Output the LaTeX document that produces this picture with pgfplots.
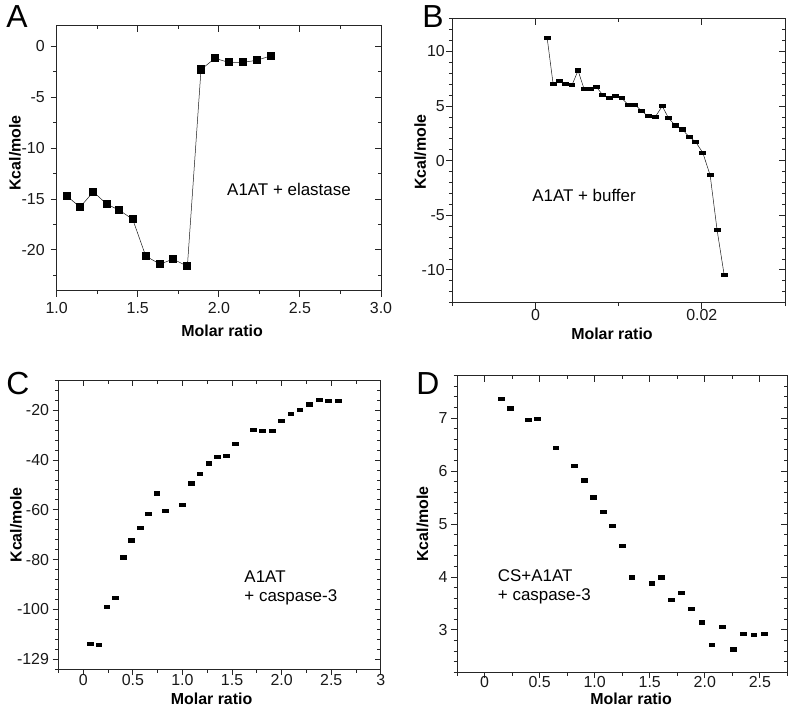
\documentclass[border=0pt]{standalone}
\usepackage{pgfplots}
\pgfplotsset{compat=1.18}
\usepackage{fontspec}
\setmainfont{Liberation Sans}
\begin{document}
\begin{tikzpicture}
\useasboundingbox (0bp,0bp) rectangle (796bp,714bp);
\pgfplotsset{
  base/.style={scale only axis,
    axis line style={black!85, line width=0.9pt},
    tick style={black!85, line width=0.9pt},
    major tick length=6bp, minor tick length=3.5bp,
    /pgf/number format/assume math mode=true,
    tick label style={font=\fontsize{16}{19}\selectfont, black!90},
    label style={font=\bfseries\fontsize{16}{19}\selectfont},
    scaled ticks=false, clip=false,
  },
  front/.style={base, tick align=outside, xtick pos=left, ytick pos=left},
  back/.style={base, tick align=inside, xtick pos=right, ytick pos=right,
    xticklabels={}, yticklabels={}},
  pA/.style={width=324.3bp, height=265bp, xmin=1, xmax=3, ymin=-24, ymax=2,
    xtick={1,1.5,2,2.5,3}, xticklabels={1.0,1.5,2.0,2.5,3.0},
    minor xtick={1.25,1.75,2.25,2.75},
    ytick={-20,-15,-10,-5,0}, minor ytick={-22.5,-17.5,-12.5,-7.5,-2.5}},
  pB/.style={width=332.7bp, height=284bp, xmin=-0.01, xmax=0.03, ymin=-13, ymax=13,
    xtick={0,0.02}, xticklabels={0,0.02}, minor xtick={-0.01,0.01,0.03},
    ytick={-10,-5,0,5,10}, minor ytick={-13,-12,...,13}},
  pC/.style={width=322.3bp, height=289bp, xmin=-0.25, xmax=3, ymin=-124, ymax=-8,
    xtick={0,0.5,1,1.5,2,2.5,3}, xticklabels={0,0.5,1.0,1.5,2.0,2.5,3},
    minor xtick={-0.25,0.25,0.75,1.25,1.75,2.25,2.75},
    ytick={-120,-100,-80,-60,-40,-20}, yticklabels={-129,-100,-80,-60,-40,-20},
    minor ytick={-124,-120,...,-8}},
  pD/.style={width=330.4bp, height=296.6bp, xmin=-0.25, xmax=2.75, ymin=2.2, ymax=7.8,
    xtick={0,0.5,1,1.5,2,2.5}, xticklabels={0,0.5,1.0,1.5,2.0,2.5},
    minor xtick={-0.25,0.25,0.75,1.25,1.75,2.25,2.75},
    ytick={3,4,5,6,7}, minor ytick={2.2,2.4,2.6,2.8,3.2,3.4,3.6,3.8,4.2,4.4,4.6,4.8,5.2,5.4,5.6,5.8,6.2,6.4,6.6,6.8,7.2,7.4,7.6,7.8}},
  sq/.style={black!90, line width=0.5pt, mark=square*, mark size=3.6bp, mark options={solid, fill=black, draw=black, line width=0pt}},
  rect/.style={black!90, line width=0.5pt, mark=square*, mark size=2.9bp, mark options={solid, fill=black, draw=black, line width=0pt, yscale=0.55}},
}
% ---------- Panel A ----------
\begin{scope}[shift={(56.7bp,423.3bp)}]
\begin{axis}[pA, back, at={(0pt,0pt)}, anchor=south west]
\end{axis}
\begin{axis}[pA, front, at={(0pt,0pt)}, anchor=south west,
  xticklabel style={yshift=-2.5bp}, yticklabel style={xshift=-2.5bp},
  xlabel={Molar ratio}, ylabel={Kcal/mole},
  xlabel style={at={(axis description cs:0.51,-0.151)}, anchor=center},
  ylabel style={at={(axis description cs:-0.1286,0.52)}, anchor=center}]
\addplot[sq] coordinates {
(1.062,-14.7) (1.144,-15.8) (1.226,-14.3) (1.308,-15.5) (1.386,-16.1) (1.469,-17.0)
(1.549,-20.6) (1.637,-21.4) (1.717,-20.9) (1.806,-21.6) (1.890,-2.3) (1.976,-1.2)
(2.061,-1.6) (2.147,-1.6) (2.233,-1.4) (2.322,-0.95)};
\node[anchor=west, font=\fontsize{17}{20}\selectfont] at (axis cs:2.03,-14.1) {A1AT + elastase};
\end{axis}
\end{scope}
% ---------- Panel B ----------
\begin{scope}[shift={(452.3bp,411.3bp)}]
\begin{axis}[pB, back, at={(0pt,0pt)}, anchor=south west]
\end{axis}
\begin{axis}[pB, front, at={(0pt,0pt)}, anchor=south west,
  xticklabel style={yshift=3bp}, yticklabel style={xshift=2bp},
  xlabel={Molar ratio}, ylabel={Kcal/mole},
  xlabel style={at={(axis description cs:0.48,-0.109)}, anchor=center},
  ylabel style={at={(axis description cs:-0.0962,0.53)}, anchor=center}]
\addplot[rect] coordinates {
(0.0014,11.26) (0.00212,7.03) (0.00288,7.27) (0.00364,7.03) (0.0044,6.94) (0.00512,8.25)
(0.00584,6.57) (0.0066,6.6) (0.00736,6.72) (0.00808,6.02) (0.00888,5.77) (0.00964,5.93)
(0.0104,5.71) (0.0112,5.07) (0.01196,5.13) (0.01276,4.55) (0.01356,4.06) (0.0144,4.0)
(0.01524,5.0) (0.016,3.9) (0.0168,3.23) (0.01764,2.86) (0.01848,2.19) (0.01928,1.7)
(0.02012,0.72) (0.021,-1.33) (0.02184,-6.37) (0.02268,-10.43)};
\node[anchor=west, font=\fontsize{17}{20}\selectfont] at (axis cs:-0.0008,-3.2) {A1AT + buffer};
\end{axis}
\end{scope}
% ---------- Panel C ----------
\begin{scope}[shift={(58.5bp,44.7bp)}]
\begin{axis}[pC, back, at={(0pt,0pt)}, anchor=south west]
\end{axis}
\begin{axis}[pC, front, at={(0pt,0pt)}, anchor=south west,
  xticklabel style={yshift=4bp},
  xlabel={Molar ratio}, ylabel={Kcal/mole},
  xlabel style={at={(axis description cs:0.475,-0.1038)}, anchor=center},
  ylabel style={at={(axis description cs:-0.1319,0.5)}, anchor=center}]
\addplot[rect, only marks] coordinates {
(0.074,-114.0) (0.159,-114.4) (0.24,-99.0) (0.324,-95.4) (0.405,-79.1) (0.49,-72.3)
(0.574,-67.3) (0.659,-61.7) (0.743,-53.4) (0.828,-60.6) (1.0,-58.0) (1.088,-49.4)
(1.176,-45.7) (1.267,-41.4) (1.355,-38.9) (1.446,-38.3) (1.537,-33.6) (1.72,-28.0)
(1.81,-28.4) (1.905,-28.4) (2.0,-24.3) (2.095,-21.5) (2.186,-19.9) (2.28,-17.7)
(2.378,-15.9) (2.476,-16.3) (2.574,-16.3)};
\node[anchor=west, align=left, font=\fontsize{17}{19}\selectfont] at (axis cs:1.59,-91.5) {A1AT\\+ caspase-3};
\end{axis}
\end{scope}
% ---------- Panel D ----------
\begin{scope}[shift={(457bp,41.7bp)}]
\begin{axis}[pD, back, at={(0pt,0pt)}, anchor=south west]
\end{axis}
\begin{axis}[pD, front, at={(0pt,0pt)}, anchor=south west,
  xticklabel style={yshift=5bp},
  xlabel={Molar ratio}, ylabel={Kcal/mole},
  xlabel style={at={(axis description cs:0.527,-0.091)}, anchor=center},
  ylabel style={at={(axis description cs:-0.1044,0.5)}, anchor=center}]
\addplot[rect, only marks] coordinates {
(0.154,7.36) (0.235,7.18) (0.398,6.97) (0.483,6.99) (0.648,6.44) (0.817,6.09)
(0.905,5.82) (0.989,5.5) (1.077,5.22) (1.164,4.96) (1.251,4.59) (1.339,3.99)
(1.52,3.875) (1.61,3.99) (1.698,3.57) (1.788,3.7) (1.882,3.4) (1.975,3.14)
(2.066,2.72) (2.162,3.06) (2.259,2.63) (2.352,2.92) (2.446,2.9) (2.542,2.93)};
\node[anchor=west, align=left, font=\fontsize{17}{19}\selectfont] at (axis cs:0.09,3.81) {CS+A1AT\\+ caspase-3};
\end{axis}
\end{scope}
% ---------- panel letters ----------
\node[inner sep=0, font=\fontsize{32}{32}\selectfont] at (17bp,697.5bp) {A};
\node[inner sep=0, font=\fontsize{32}{32}\selectfont] at (433bp,697bp) {B};
\node[inner sep=0, font=\fontsize{32}{32}\selectfont] at (18bp,330bp) {C};
\node[inner sep=0, font=\fontsize{32}{32}\selectfont] at (428bp,330bp) {D};
\end{tikzpicture}
\end{document}
